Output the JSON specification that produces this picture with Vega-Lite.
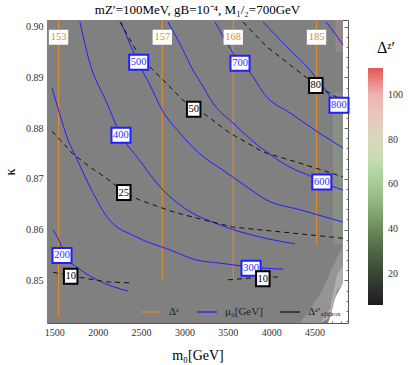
{
  "$schema": "https://vega.github.io/schema/vega-lite/v6.json",
  "width": 301,
  "height": 303,
  "autosize": "none",
  "padding": {"left": 47, "top": 20, "right": 67, "bottom": 42},
  "title": {"text": "mZ′=100MeV, gB=10⁻⁴, M₁/₂=700GeV", "font": "Liberation Serif", "fontSize": 13, "fontWeight": "normal", "color": "#000", "offset": 3, "anchor": "middle"},
  "config": {"view": {"stroke": "#555", "strokeWidth": 1}, "font": "Liberation Serif"},
  "datasets": {
    "bg": [
      {"x": 1415, "lo": 0.8416, "hi": 0.9013},
      {"x": 4654, "lo": 0.8416, "hi": 0.9013},
      {"x": 4677, "lo": 0.8426, "hi": 0.9013},
      {"x": 4758, "lo": 0.8481, "hi": 0.9013},
      {"x": 4827, "lo": 0.8495, "hi": 0.9013}
    ],
    "light1": [
      {"x": 4332, "lo": 0.8416, "hi": 0.8416},
      {"x": 4562, "lo": 0.8416, "hi": 0.8471},
      {"x": 4735, "lo": 0.8465, "hi": 0.8536},
      {"x": 4827, "lo": 0.8495, "hi": 0.857}
    ],
    "light2": [
      {"x": 4562, "lo": 0.8416, "hi": 0.8416},
      {"x": 4677, "lo": 0.8426, "hi": 0.8445},
      {"x": 4758, "lo": 0.8481, "hi": 0.851},
      {"x": 4827, "lo": 0.8495, "hi": 0.853}
    ],
    "tint": [
      {"x": 4712, "x2": 4827, "y": 0.857, "y2": 0.887}
    ],
    "tint2": [
      {"x": 4740, "x2": 4827, "y": 0.895, "y2": 0.9013}
    ],
    "orange": [
      {"x": 1548, "y": 0.9012, "y2": 0.8428, "s": "Δᶻ"},
      {"x": 2744, "y": 0.9012, "y2": 0.8501, "s": "Δᶻ"},
      {"x": 3562, "y": 0.9012, "y2": 0.8501, "s": "Δᶻ"},
      {"x": 4522, "y": 0.9012, "y2": 0.8571, "s": "Δᶻ"}
    ],
    "blue": [
      {"c": "200", "i": 0, "x": 1484, "y": 0.8599}, {"c": "200", "i": 1, "x": 1542, "y": 0.8583}, {"c": "200", "i": 2, "x": 1634, "y": 0.8545}, {"c": "200", "i": 3, "x": 1761, "y": 0.8526}, {"c": "200", "i": 4, "x": 1991, "y": 0.8501}, {"c": "200", "i": 5, "x": 2349, "y": 0.8479},
      {"c": "300", "i": 0, "x": 1473, "y": 0.8879}, {"c": "300", "i": 1, "x": 1565, "y": 0.8826}, {"c": "300", "i": 2, "x": 1657, "y": 0.8777}, {"c": "300", "i": 3, "x": 1749, "y": 0.8743}, {"c": "300", "i": 4, "x": 1888, "y": 0.8692}, {"c": "300", "i": 5, "x": 2107, "y": 0.8625}, {"c": "300", "i": 6, "x": 2453, "y": 0.8585}, {"c": "300", "i": 7, "x": 2833, "y": 0.856}, {"c": "300", "i": 8, "x": 3144, "y": 0.854}, {"c": "300", "i": 9, "x": 3409, "y": 0.8534}, {"c": "300", "i": 10, "x": 3778, "y": 0.8526}, {"c": "300", "i": 11, "x": 4136, "y": 0.8522},
      {"c": "400", "i": 0, "x": 1795, "y": 0.9009}, {"c": "400", "i": 1, "x": 1899, "y": 0.8934}, {"c": "400", "i": 2, "x": 2107, "y": 0.8849}, {"c": "400", "i": 3, "x": 2268, "y": 0.8786}, {"c": "400", "i": 4, "x": 2453, "y": 0.8743}, {"c": "400", "i": 5, "x": 2752, "y": 0.8678}, {"c": "400", "i": 6, "x": 3029, "y": 0.8639}, {"c": "400", "i": 7, "x": 3352, "y": 0.8613}, {"c": "400", "i": 8, "x": 3698, "y": 0.8593}, {"c": "400", "i": 9, "x": 3986, "y": 0.8581}, {"c": "400", "i": 10, "x": 4274, "y": 0.8572},
      {"c": "500", "i": 0, "x": 2268, "y": 0.9009}, {"c": "500", "i": 1, "x": 2464, "y": 0.893}, {"c": "500", "i": 2, "x": 2602, "y": 0.8885}, {"c": "500", "i": 3, "x": 2741, "y": 0.8836}, {"c": "500", "i": 4, "x": 2948, "y": 0.879}, {"c": "500", "i": 5, "x": 3179, "y": 0.8749}, {"c": "500", "i": 6, "x": 3444, "y": 0.8717}, {"c": "500", "i": 7, "x": 3721, "y": 0.8684}, {"c": "500", "i": 8, "x": 3951, "y": 0.8658}, {"c": "500", "i": 9, "x": 4332, "y": 0.8639}, {"c": "500", "i": 10, "x": 4827, "y": 0.8615},
      {"c": "600", "i": 0, "x": 2810, "y": 0.9009}, {"c": "600", "i": 1, "x": 2971, "y": 0.8958}, {"c": "600", "i": 2, "x": 3098, "y": 0.8914}, {"c": "600", "i": 3, "x": 3190, "y": 0.8889}, {"c": "600", "i": 4, "x": 3329, "y": 0.8849}, {"c": "600", "i": 5, "x": 3559, "y": 0.881}, {"c": "600", "i": 6, "x": 3870, "y": 0.8763}, {"c": "600", "i": 7, "x": 4216, "y": 0.8723}, {"c": "600", "i": 8, "x": 4470, "y": 0.8704}, {"c": "600", "i": 9, "x": 4585, "y": 0.8694}, {"c": "600", "i": 10, "x": 4827, "y": 0.8678},
      {"c": "700", "i": 0, "x": 3352, "y": 0.9009}, {"c": "700", "i": 1, "x": 3502, "y": 0.8964}, {"c": "700", "i": 2, "x": 3640, "y": 0.8928}, {"c": "700", "i": 3, "x": 3732, "y": 0.8914}, {"c": "700", "i": 4, "x": 3951, "y": 0.8861}, {"c": "700", "i": 5, "x": 4216, "y": 0.883}, {"c": "700", "i": 6, "x": 4539, "y": 0.8792}, {"c": "700", "i": 7, "x": 4827, "y": 0.8761},
      {"c": "800", "i": 0, "x": 3905, "y": 0.9009}, {"c": "800", "i": 1, "x": 4182, "y": 0.896}, {"c": "800", "i": 2, "x": 4447, "y": 0.8914}, {"c": "800", "i": 3, "x": 4597, "y": 0.8881}, {"c": "800", "i": 4, "x": 4770, "y": 0.8843}, {"c": "800", "i": 5, "x": 4827, "y": 0.8836},
      {"c": "900", "i": 0, "x": 4631, "y": 0.9009}, {"c": "900", "i": 1, "x": 4758, "y": 0.8981}, {"c": "900", "i": 2, "x": 4827, "y": 0.8964}
    ],
    "dashed": [
      {"c": "10a", "i": 0, "x": 1484, "y": 0.8516}, {"c": "10a", "i": 1, "x": 1680, "y": 0.8509}, {"c": "10a", "i": 2, "x": 2107, "y": 0.8497}, {"c": "10a", "i": 3, "x": 2372, "y": 0.8495},
      {"c": "10b", "i": 0, "x": 3502, "y": 0.8501}, {"c": "10b", "i": 1, "x": 3790, "y": 0.8505}, {"c": "10b", "i": 2, "x": 4101, "y": 0.8507},
      {"c": "25", "i": 0, "x": 1473, "y": 0.8794}, {"c": "25", "i": 1, "x": 1565, "y": 0.8777}, {"c": "25", "i": 2, "x": 1703, "y": 0.8751}, {"c": "25", "i": 3, "x": 1911, "y": 0.8723}, {"c": "25", "i": 4, "x": 2095, "y": 0.8702}, {"c": "25", "i": 5, "x": 2303, "y": 0.8674}, {"c": "25", "i": 6, "x": 2487, "y": 0.8658}, {"c": "25", "i": 7, "x": 2868, "y": 0.8635}, {"c": "25", "i": 8, "x": 3179, "y": 0.8621}, {"c": "25", "i": 9, "x": 3559, "y": 0.8605}, {"c": "25", "i": 10, "x": 4136, "y": 0.8595}, {"c": "25", "i": 11, "x": 4827, "y": 0.8583},
      {"c": "50", "i": 0, "x": 2257, "y": 0.9009}, {"c": "50", "i": 1, "x": 2487, "y": 0.894}, {"c": "50", "i": 2, "x": 2752, "y": 0.8895}, {"c": "50", "i": 3, "x": 2983, "y": 0.8855}, {"c": "50", "i": 4, "x": 3098, "y": 0.884}, {"c": "50", "i": 5, "x": 3213, "y": 0.883}, {"c": "50", "i": 6, "x": 3525, "y": 0.879}, {"c": "50", "i": 7, "x": 3905, "y": 0.8753}, {"c": "50", "i": 8, "x": 4332, "y": 0.8731}, {"c": "50", "i": 9, "x": 4827, "y": 0.8704},
      {"c": "80", "i": 0, "x": 3675, "y": 0.9009}, {"c": "80", "i": 1, "x": 3951, "y": 0.896}, {"c": "80", "i": 2, "x": 4251, "y": 0.892}, {"c": "80", "i": 3, "x": 4516, "y": 0.8885}, {"c": "80", "i": 4, "x": 4712, "y": 0.8865}, {"c": "80", "i": 5, "x": 4827, "y": 0.8855}
    ],
    "labels": [
      {"k": "o", "x": 1548, "y": 0.8979, "t": "153"},
      {"k": "o", "x": 2744, "y": 0.8979, "t": "157"},
      {"k": "o", "x": 3562, "y": 0.8979, "t": "168"},
      {"k": "o", "x": 4522, "y": 0.8979, "t": "185"},
      {"k": "b", "x": 1588, "y": 0.8549, "t": "200"},
      {"k": "b", "x": 3767, "y": 0.8524, "t": "300"},
      {"k": "b", "x": 2268, "y": 0.8786, "t": "400"},
      {"k": "b", "x": 2472, "y": 0.893, "t": "500"},
      {"k": "b", "x": 4583, "y": 0.8694, "t": "600"},
      {"k": "b", "x": 3640, "y": 0.8928, "t": "700"},
      {"k": "b", "x": 4781, "y": 0.8845, "t": "800"},
      {"k": "k", "x": 1688, "y": 0.8508, "t": "10"},
      {"k": "k", "x": 3903, "y": 0.8503, "t": "10"},
      {"k": "k", "x": 2300, "y": 0.8673, "t": "25"},
      {"k": "k", "x": 3106, "y": 0.8837, "t": "50"},
      {"k": "k", "x": 4514, "y": 0.8884, "t": "80"}
    ],
    "cbar": [
      {"x": 3000, "y": 0.87, "dz": 6},
      {"x": 3000, "y": 0.87, "dz": 112}
    ]
  },
  "layer": [
    {
      "data": {"name": "bg"},
      "mark": {"type": "area", "color": "#808080", "orient": "vertical"},
      "encoding": {
        "x": {"field": "x", "type": "quantitative", "scale": {"domain": [1415, 4885], "nice": false, "zero": false},
          "axis": {"orient": "bottom", "values": [1500, 2000, 2500, 3000, 3500, 4000, 4500], "format": "d", "tickSize": -4, "labelPadding": 8, "domain": false, "grid": false, "title": "m₀[GeV]", "titleFont": "Liberation Serif", "titleFontSize": 14, "titleFontWeight": "normal", "titleColor": "#000", "titlePadding": 11, "labelFont": "Liberation Serif", "labelFontSize": 10, "labelColor": "#333", "tickColor": "#666"}},
        "y": {"field": "lo", "type": "quantitative", "scale": {"domain": [0.8416, 0.9013], "nice": false, "zero": false},
          "axis": {"orient": "left", "values": [0.85, 0.86, 0.87, 0.88, 0.89, 0.9], "format": ".2f", "tickSize": -4, "labelPadding": 8, "domain": false, "grid": false, "title": "κ", "titleFont": "Liberation Serif", "titleFontSize": 14, "titleFontWeight": "normal", "titleColor": "#000", "titlePadding": 8, "labelFont": "Liberation Serif", "labelFontSize": 10, "labelColor": "#333", "tickColor": "#666"}},
        "y2": {"field": "hi"}
      }
    },
    {
      "data": {"name": "light1"},
      "mark": {"type": "area", "color": "#959595", "orient": "vertical"},
      "encoding": {
        "x": {"field": "x", "type": "quantitative", "axis": {"orient": "top", "values": [1500, 2000, 2500, 3000, 3500, 4000, 4500], "labels": false, "tickSize": -4, "domain": false, "grid": false, "title": null, "tickColor": "#666"}},
        "y": {"field": "lo", "type": "quantitative", "axis": {"orient": "right", "values": [0.85, 0.86, 0.87, 0.88, 0.89, 0.9], "labels": false, "tickSize": -4, "domain": false, "grid": false, "title": null, "tickColor": "#666"}},
        "y2": {"field": "hi"}
      }
    },
    {
      "data": {"name": "light2"},
      "mark": {"type": "area", "color": "#b0b0b0", "orient": "vertical"},
      "encoding": {
        "x": {"field": "x", "type": "quantitative", "axis": {"orient": "bottom", "values": [1500, 1600, 1700, 1800, 1900, 2000, 2100, 2200, 2300, 2400, 2500, 2600, 2700, 2800, 2900, 3000, 3100, 3200, 3300, 3400, 3500, 3600, 3700, 3800, 3900, 4000, 4100, 4200, 4300, 4400, 4500, 4600, 4700, 4800], "labels": false, "tickSize": -2, "domain": false, "grid": false, "title": null, "tickColor": "#666"}},
        "y": {"field": "lo", "type": "quantitative", "axis": {"orient": "left", "values": [0.842, 0.844, 0.846, 0.848, 0.85, 0.852, 0.854, 0.856, 0.858, 0.86, 0.862, 0.864, 0.866, 0.868, 0.87, 0.872, 0.874, 0.876, 0.878, 0.88, 0.882, 0.884, 0.886, 0.888, 0.89, 0.892, 0.894, 0.896, 0.898, 0.9], "labels": false, "tickSize": -2, "domain": false, "grid": false, "title": null, "tickColor": "#666"}},
        "y2": {"field": "hi"}
      }
    },
    {
      "data": {"name": "tint"},
      "mark": {"type": "rect", "color": "#8d9a88", "opacity": 0.6},
      "encoding": {
        "x": {"field": "x", "type": "quantitative", "axis": {"orient": "top", "values": [1500, 1600, 1700, 1800, 1900, 2000, 2100, 2200, 2300, 2400, 2500, 2600, 2700, 2800, 2900, 3000, 3100, 3200, 3300, 3400, 3500, 3600, 3700, 3800, 3900, 4000, 4100, 4200, 4300, 4400, 4500, 4600, 4700, 4800], "labels": false, "tickSize": -2, "domain": false, "grid": false, "title": null, "tickColor": "#666"}},
        "x2": {"field": "x2"},
        "y": {"field": "y", "type": "quantitative", "axis": {"orient": "right", "values": [0.842, 0.844, 0.846, 0.848, 0.85, 0.852, 0.854, 0.856, 0.858, 0.86, 0.862, 0.864, 0.866, 0.868, 0.87, 0.872, 0.874, 0.876, 0.878, 0.88, 0.882, 0.884, 0.886, 0.888, 0.89, 0.892, 0.894, 0.896, 0.898, 0.9], "labels": false, "tickSize": -2, "domain": false, "grid": false, "title": null, "tickColor": "#666"}},
        "y2": {"field": "y2"}
      }
    },
    {
      "data": {"name": "tint2"},
      "mark": {"type": "rect", "color": "#a88888", "opacity": 0.6},
      "encoding": {
        "x": {"field": "x", "type": "quantitative", "axis": null},
        "x2": {"field": "x2"},
        "y": {"field": "y", "type": "quantitative", "axis": null},
        "y2": {"field": "y2"}
      }
    },
    {
      "data": {"name": "orange"},
      "mark": {"type": "rule", "strokeWidth": 1.2},
      "encoding": {
        "x": {"field": "x", "type": "quantitative", "axis": null},
        "y": {"field": "y", "type": "quantitative", "axis": null},
        "y2": {"field": "y2"},
        "stroke": {"field": "s", "type": "nominal",
          "scale": {"domain": ["Δᶻ", "μ₀[GeV]", "Δᶻ′ₐₚₚᵣₒₓ"], "range": ["#e08a30", "#1f1fff", "#111111"]},
          "legend": {"orient": "none", "legendX": 93, "legendY": 281, "direction": "horizontal", "title": null, "symbolType": "stroke", "symbolSize": 400, "symbolStrokeWidth": 1.2, "symbolDash": [], "labelFont": "Liberation Serif", "labelFontSize": 11, "labelColor": "#222", "labelOffset": 7, "columnPadding": 14}}
      }
    },
    {
      "data": {"name": "blue"},
      "mark": {"type": "line", "strokeWidth": 1, "interpolate": "monotone"},
      "encoding": {
        "x": {"field": "x", "type": "quantitative", "axis": null},
        "y": {"field": "y", "type": "quantitative", "axis": null},
        "detail": {"field": "c"},
        "order": {"field": "i", "type": "quantitative"},
        "stroke": {"datum": "μ₀[GeV]", "type": "nominal", "scale": {"domain": ["Δᶻ", "μ₀[GeV]", "Δᶻ′ₐₚₚᵣₒₓ"], "range": ["#e08a30", "#1f1fff", "#111111"]}}
      }
    },
    {
      "data": {"name": "dashed"},
      "mark": {"type": "line", "strokeWidth": 1, "strokeDash": [5, 4]},
      "encoding": {
        "x": {"field": "x", "type": "quantitative", "axis": null},
        "y": {"field": "y", "type": "quantitative", "axis": null},
        "detail": {"field": "c"},
        "order": {"field": "i", "type": "quantitative"},
        "stroke": {"datum": "Δᶻ′ₐₚₚᵣₒₓ", "type": "nominal", "scale": {"domain": ["Δᶻ", "μ₀[GeV]", "Δᶻ′ₐₚₚᵣₒₓ"], "range": ["#e08a30", "#1f1fff", "#111111"]}}
      }
    },
    {
      "data": {"name": "labels"},
      "transform": [{"filter": "datum.k == 'o'"}],
      "mark": {"type": "point", "shape": "M-1.29,-1H1.29V1H-1.29Z", "size": 225, "filled": true, "fill": "#ffffff", "strokeWidth": 0, "opacity": 1},
      "encoding": {
        "x": {"field": "x", "type": "quantitative", "axis": null},
        "y": {"field": "y", "type": "quantitative", "axis": null}
      }
    },
    {
      "data": {"name": "labels"},
      "transform": [{"filter": "datum.k == 'o'"}],
      "mark": {"type": "text", "font": "Liberation Serif", "fontSize": 10.5, "color": "#e8891f", "align": "center", "baseline": "middle"},
      "encoding": {
        "x": {"field": "x", "type": "quantitative", "axis": null},
        "y": {"field": "y", "type": "quantitative", "axis": null},
        "text": {"field": "t"}
      }
    },
    {
      "data": {"name": "labels"},
      "transform": [{"filter": "datum.k == 'b'"}],
      "mark": {"type": "point", "shape": "M-1.27,-1H1.27V1H-1.27Z", "size": 225, "filled": true, "fill": "#ffffff", "stroke": "#1f1fff", "strokeWidth": 2, "opacity": 1},
      "encoding": {
        "x": {"field": "x", "type": "quantitative", "axis": null},
        "y": {"field": "y", "type": "quantitative", "axis": null}
      }
    },
    {
      "data": {"name": "labels"},
      "transform": [{"filter": "datum.k == 'b'"}],
      "mark": {"type": "text", "font": "Liberation Serif", "fontSize": 10.5, "color": "#3030ff", "align": "center", "baseline": "middle"},
      "encoding": {
        "x": {"field": "x", "type": "quantitative", "axis": null},
        "y": {"field": "y", "type": "quantitative", "axis": null},
        "text": {"field": "t"}
      }
    },
    {
      "data": {"name": "labels"},
      "transform": [{"filter": "datum.k == 'k'"}],
      "mark": {"type": "point", "shape": "M-0.9,-1H0.9V1H-0.9Z", "size": 225, "filled": true, "fill": "#ffffff", "stroke": "#000000", "strokeWidth": 2, "opacity": 1},
      "encoding": {
        "x": {"field": "x", "type": "quantitative", "axis": null},
        "y": {"field": "y", "type": "quantitative", "axis": null}
      }
    },
    {
      "data": {"name": "labels"},
      "transform": [{"filter": "datum.k == 'k'"}],
      "mark": {"type": "text", "font": "Liberation Serif", "fontSize": 10.5, "color": "#000000", "align": "center", "baseline": "middle"},
      "encoding": {
        "x": {"field": "x", "type": "quantitative", "axis": null},
        "y": {"field": "y", "type": "quantitative", "axis": null},
        "text": {"field": "t"}
      }
    },
    {
      "data": {"name": "cbar"},
      "mark": {"type": "point", "filled": true, "opacity": 0},
      "encoding": {
        "x": {"field": "x", "type": "quantitative", "axis": null},
        "y": {"field": "y", "type": "quantitative", "axis": null},
        "color": {"field": "dz", "type": "quantitative",
          "scale": {"domain": [6, 10, 20, 30, 40, 50, 60, 70, 80, 90, 100, 112], "range": ["#1c1c1c", "#262826", "#3a4634", "#4f6646", "#6a8c5c", "#88b078", "#a4cc94", "#c0dcb0", "#d8d8c0", "#e8c8bc", "#efb3b3", "#df5858"]},
          "legend": {"orient": "none", "legendX": 321, "legendY": 20, "direction": "vertical", "title": "Δᶻ′", "titleFont": "Liberation Serif", "titleFontSize": 16, "titleFontWeight": "normal", "titleColor": "#000", "titleAnchor": "middle", "titlePadding": 12, "gradientLength": 237, "gradientThickness": 15, "gradientStrokeWidth": 0, "values": [20, 40, 60, 80, 100], "labelFont": "Liberation Serif", "labelFontSize": 10, "labelOffset": 5, "labelColor": "#333"}}
      }
    }
  ],
  "resolve": {"axis": {"x": "independent", "y": "independent"}}
}
